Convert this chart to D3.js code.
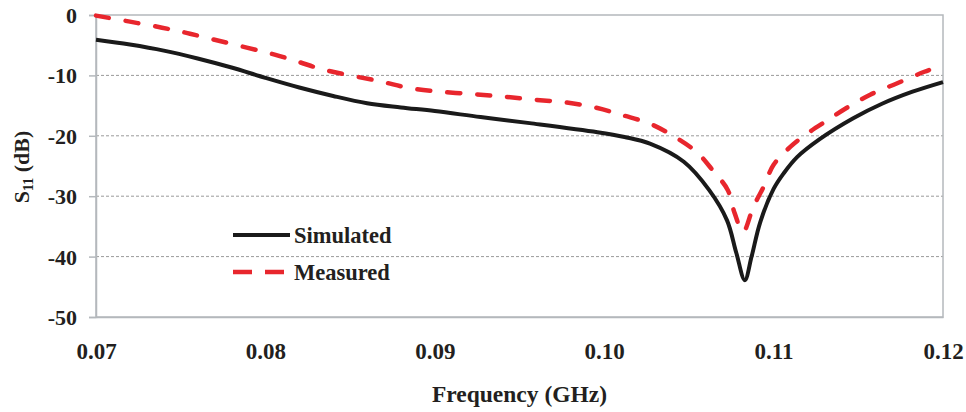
<!DOCTYPE html>
<html>
<head>
<meta charset="utf-8">
<script src="https://cdn.jsdelivr.net/npm/d3@7"></script>
<style>
  html, body { margin: 0; padding: 0; background: #fff; }
  svg text { font-family: "Liberation Serif", "Times New Roman", serif; font-weight: bold; fill: #231f20; }
</style>
</head>
<body>
<svg id="chart" width="966" height="412"></svg>
<script>
// Return loss S11 (dB) versus frequency (GHz)
const simFreq = [0.0700, 0.0720, 0.0740, 0.0760, 0.0780, 0.0800, 0.0820, 0.0840, 0.0860, 0.0880,
                 0.0900, 0.0927, 0.0956, 0.0996, 0.1012, 0.1027, 0.1047, 0.1062, 0.10725, 0.1078,
                 0.1083, 0.1087, 0.1092, 0.1100, 0.1106, 0.1114, 0.1127, 0.1147, 0.1164, 0.1182, 0.1200];
const simS11  = [-4.1, -4.9, -5.9, -7.2, -8.7, -10.4, -12.0, -13.4, -14.6, -15.3,
                 -15.9, -16.9, -17.9, -19.4, -20.2, -21.3, -24.3, -29.0, -34.0, -39.4,
                 -43.9, -40.0, -34.4, -28.8, -26.2, -23.5, -20.6, -17.1, -14.7, -12.7, -11.1];

const measFreq = [0.0700, 0.0720, 0.0739, 0.0754, 0.0770, 0.0789, 0.0806, 0.0820, 0.0835, 0.0868,
                  0.0885, 0.0903, 0.0923, 0.0940, 0.0958, 0.0978, 0.0996, 0.1011, 0.1027, 0.1040,
                  0.1055, 0.1064, 0.1073, 0.1077, 0.1082, 0.1088, 0.1094, 0.1100, 0.1110, 0.1120,
                  0.1132, 0.1143, 0.1157, 0.1173, 0.1189, 0.1200];
const measS11  = [-0.1, -1.1, -2.1, -3.0, -4.1, -5.4, -6.6, -7.8, -9.1, -11.0,
                  -12.1, -12.7, -13.1, -13.5, -14.0, -14.5, -15.4, -16.6, -18.0, -19.9,
                  -22.8, -25.7, -29.0, -32.8, -35.9, -31.8, -28.5, -24.8, -21.8, -19.6,
                  -17.4, -15.4, -13.2, -11.3, -9.4, -8.3];

const xTicks = [0.07, 0.08, 0.09, 0.10, 0.11, 0.12];
const xTickLabels = ["0.07", "0.08", "0.09", "0.10", "0.11", "0.12"];
const yTicks = [0, -10, -20, -30, -40, -50];

const seriesNames = ["Simulated", "Measured"];

const svg = d3.select("#chart");
const plot = { left: 96, right: 943, top: 15, bottom: 317 };

const x = d3.scaleLinear().domain([0.07, 0.12]).range([plot.left, plot.right]);
const y = d3.scaleLinear().domain([-50, 0]).range([plot.bottom, plot.top]);

const gridColor = "#9a9a9a";
const frameColor = "#b4b8bc";

// horizontal dashed grid
svg.append("g")
  .selectAll("line")
  .data(yTicks.filter(d => d > -50 && d < 0))
  .join("line")
  .attr("x1", plot.left).attr("x2", plot.right)
  .attr("y1", d => y(d)).attr("y2", d => y(d))
  .attr("stroke", gridColor)
  .attr("stroke-width", 1)
  .attr("stroke-dasharray", "3,2");

// plot frame
svg.append("rect")
  .attr("x", plot.left).attr("y", plot.top)
  .attr("width", plot.right - plot.left).attr("height", plot.bottom - plot.top)
  .attr("fill", "none")
  .attr("stroke", frameColor)
  .attr("stroke-width", 1.5);

// y axis
const yAxis = d3.axisLeft(y).tickValues(yTicks).tickSize(7).tickPadding(12).tickFormat(d3.format("d"));
const gy = svg.append("g").attr("transform", `translate(${plot.left},0)`).call(yAxis);
gy.select(".domain").attr("stroke", frameColor).attr("stroke-width", 1.5);
gy.selectAll(".tick line").attr("stroke", frameColor).attr("stroke-width", 1.5);
gy.selectAll(".tick text")
  .style("font-size", "22px")
  .attr("dy", "0.34em")
  .text(d => d === 0 ? "0" : "-" + Math.abs(d));

// x axis
const xAxis = d3.axisBottom(x).tickValues(xTicks).tickSize(0).tickPadding(26)
  .tickFormat((d, i) => xTickLabels[i]);
const gx = svg.append("g").attr("transform", `translate(0,${plot.bottom})`).call(xAxis);
gx.select(".domain").attr("stroke", frameColor).attr("stroke-width", 1.5);
gx.selectAll(".tick text").style("font-size", "23px");

// axis titles
svg.append("text")
  .attr("x", (plot.left + plot.right) / 2)
  .attr("y", 402)
  .attr("text-anchor", "middle")
  .style("font-size", "23.5px")
  .text("Frequency (GHz)");

const yTitle = svg.append("text")
  .attr("transform", "translate(29,167) rotate(-90)")
  .attr("text-anchor", "middle")
  .style("font-size", "22px");
yTitle.append("tspan").text("S");
yTitle.append("tspan").style("font-size", "14px").attr("dy", 4).text("11");
yTitle.append("tspan").attr("dy", -4).text(" (dB)");

// curves
const line = d3.line()
  .x(d => x(d[0]))
  .y(d => y(d[1]))
  .curve(d3.curveCatmullRom.alpha(0.5));

const simData = simFreq.map((f, i) => [f, simS11[i]]);
const measData = measFreq.map((f, i) => [f, measS11[i]]);

svg.append("path")
  .datum(simData)
  .attr("d", line)
  .attr("fill", "none")
  .attr("stroke", "#1a1a1a")
  .attr("stroke-width", 4)
  .attr("stroke-linejoin", "round");

svg.append("path")
  .datum(measData)
  .attr("d", line)
  .attr("fill", "none")
  .attr("stroke", "#e8262d")
  .attr("stroke-width", 4.5)
  .attr("stroke-linecap", "round")
  .attr("stroke-dasharray", "13,17");

// legend
const legend = svg.append("g");
const legendRows = [
  { name: seriesNames[0], color: "#1a1a1a", dash: null, width: 4, ly: 235 },
  { name: seriesNames[1], color: "#e8262d", dash: "19,13", width: 4.5, ly: 272 }
];
legendRows.forEach(r => {
  legend.append("line")
    .attr("x1", 233).attr("x2", 290)
    .attr("y1", r.ly).attr("y2", r.ly)
    .attr("stroke", r.color)
    .attr("stroke-width", r.width)
    .attr("stroke-dasharray", r.dash);
  legend.append("text")
    .attr("x", 294)
    .attr("y", r.ly + 8)
    .style("font-size", "22.5px")
    .text(r.name);
});
</script>
</body>
</html>
